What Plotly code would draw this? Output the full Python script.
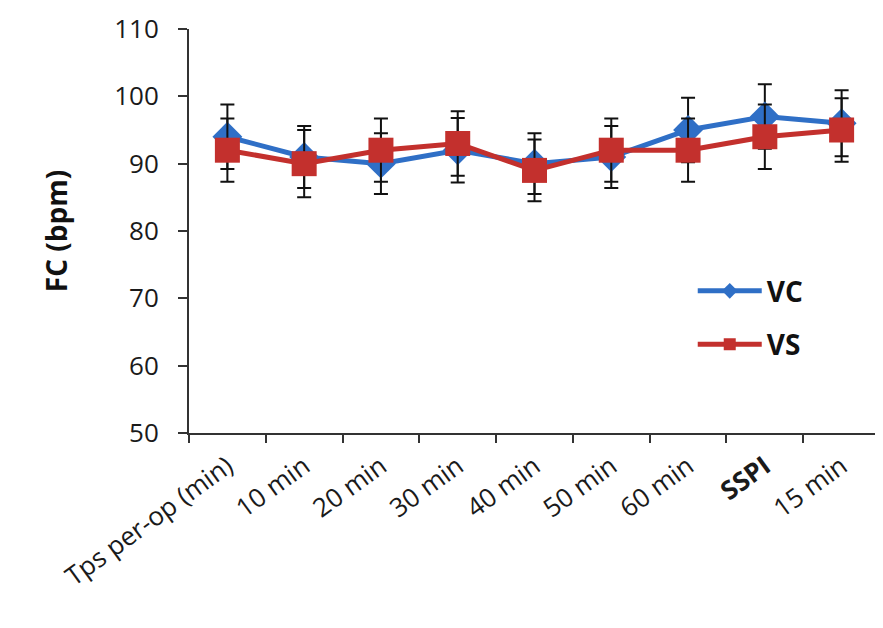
import plotly.graph_objects as go

categories = ["Tps per-op (min)", "10 min", "20 min", "30 min", "40 min",
              "50 min", "60 min", "SSPI", "15 min"]
tick_text = ["Tps per-op (min)", "10 min", "20 min", "30 min", "40 min",
             "50 min", "60 min", "<b>SSPI</b>", "15 min"]
vc_values = [94, 91, 90, 92, 90, 91, 95, 97, 96]
vc_err = [4.8, 4.6, 4.5, 4.8, 4.5, 4.6, 4.8, 4.8, 4.9]
vs_values = [92, 90, 92, 93, 89, 92, 92, 94, 95]
vs_err = [4.7, 5.0, 4.7, 4.8, 4.6, 4.7, 4.7, 4.8, 4.7]
y_ticks = [50, 60, 70, 80, 90, 100, 110]

BLUE = "#2F6FC6"
RED = "#C3302D"
FONT = "Open Sans"

fig = go.Figure()
fig.add_trace(go.Scatter(
    x=categories, y=vc_values, name="VC", mode="lines+markers",
    legendgroup="vc",
    line=dict(color=BLUE, width=5),
    marker=dict(symbol="diamond", size=23, color=BLUE),
    error_y=dict(type="data", array=vc_err, visible=True,
                 color="#111111", thickness=2, width=7),
))
fig.add_trace(go.Scatter(
    x=categories, y=vs_values, name="VS", mode="lines+markers",
    legendgroup="vs",
    line=dict(color=RED, width=5),
    marker=dict(symbol="square", size=25, color=RED),
    error_y=dict(type="data", array=vs_err, visible=True,
                 color="#111111", thickness=2, width=7),
))

fig.update_layout(
    width=875, height=620,
    margin=dict(l=181, r=3, t=21, b=195, autoexpand=False),
    paper_bgcolor="white", plot_bgcolor="white",
    font=dict(family=FONT, color="#1a1a1a"),
    showlegend=True,
    legend=dict(x=0.729, y=0.413, xanchor="left", yanchor="top",
                font=dict(size=28, family=FONT, color="#111111", weight="bold"),
                bgcolor="rgba(0,0,0,0)", tracegroupgap=14, itemwidth=64,
                itemsizing="constant"),
)
fig.update_xaxes(
    type="category", categoryorder="array", categoryarray=categories,
    tickmode="array", tickvals=categories, ticktext=tick_text,
    range=[-0.5, 8.5], tickson="boundaries",
    ticks="outside", ticklen=8, tickwidth=2, tickcolor="#333333",
    showline=True, linecolor="#333333", linewidth=2,
    showgrid=False, zeroline=False, automargin=False,
    tickangle=-36, ticklabelstandoff=6, ticklabeloverflow="allow",
    tickfont=dict(size=26, family=FONT, color="#1a1a1a"),
)
fig.update_yaxes(
    range=[50, 110], tickmode="array", tickvals=y_ticks,
    ticks="outside", ticklen=9, tickwidth=2, tickcolor="#333333",
    showline=True, linecolor="#333333", linewidth=2,
    showgrid=False, zeroline=False, ticklabelstandoff=14, automargin=False,
    ticklabeloverflow="allow",
    tickfont=dict(size=26, family=FONT, color="#1a1a1a"),
    title=dict(text="<b>FC (bpm)</b>", font=dict(size=28, family=FONT, color="#111111"),
               standoff=38),
)

fig.write_html("out.html")
